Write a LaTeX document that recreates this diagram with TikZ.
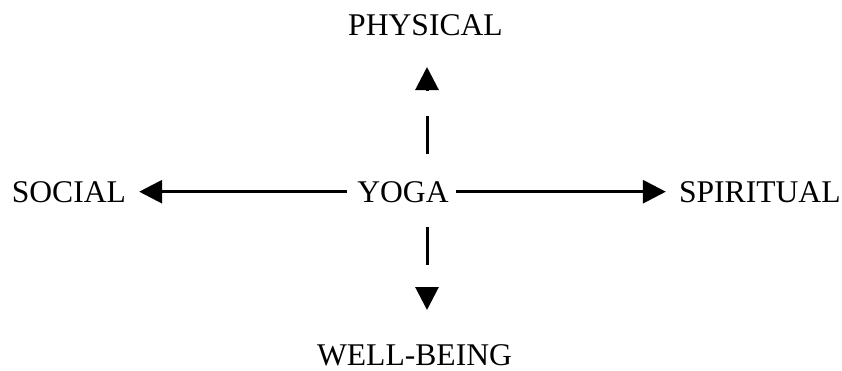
\documentclass[tikz,border=0pt]{standalone}
\usepackage{fontspec}
\setmainfont{Liberation Serif}
\usetikzlibrary{arrows.meta,positioning}

\begin{document}
\begin{tikzpicture}[
    x=1pt, y=-1pt,
    word/.style={inner sep=0pt, font=\fontsize{31.6pt}{38pt}\selectfont},
    link/.style={line width=3pt},
    head/.style={line width=3pt, -{Triangle[length=23pt, width=23pt]}},
]
    \useasboundingbox (0,0) rectangle (842,370);
    \node[word, anchor=base] (yoga) at (403,202) {YOGA};
    \node[word, base left=231pt of yoga] (social) {SOCIAL};
    \node[word, base right=230pt of yoga] (spiritual) {SPIRITUAL};
    \node[word, anchor=base] (physical) at (425.5,35) {PHYSICAL};
    \node[word, anchor=base] (wellbeing) at (414.5,365) {WELL-BEING};
    \coordinate (axis) at (427,0);

    \draw[head, shorten <=10pt, shorten >=13pt] (yoga) -- (social);
    \draw[head, shorten <=7pt, shorten >=13pt] (yoga) -- (spiritual);

    \draw[link, shorten <=48pt, shorten >=81pt] (yoga.base -| axis) -- (physical.base -| axis);
    \draw[head, shorten <=111.5pt, shorten >=32pt] (yoga.base -| axis) -- (physical.base -| axis);
    \draw[link, shorten <=25pt, shorten >=100pt] (yoga.base -| axis) -- (wellbeing.base -| axis);
    \draw[head, shorten <=84.5pt, shorten >=55pt] (yoga.base -| axis) -- (wellbeing.base -| axis);
\end{tikzpicture}
\end{document}
